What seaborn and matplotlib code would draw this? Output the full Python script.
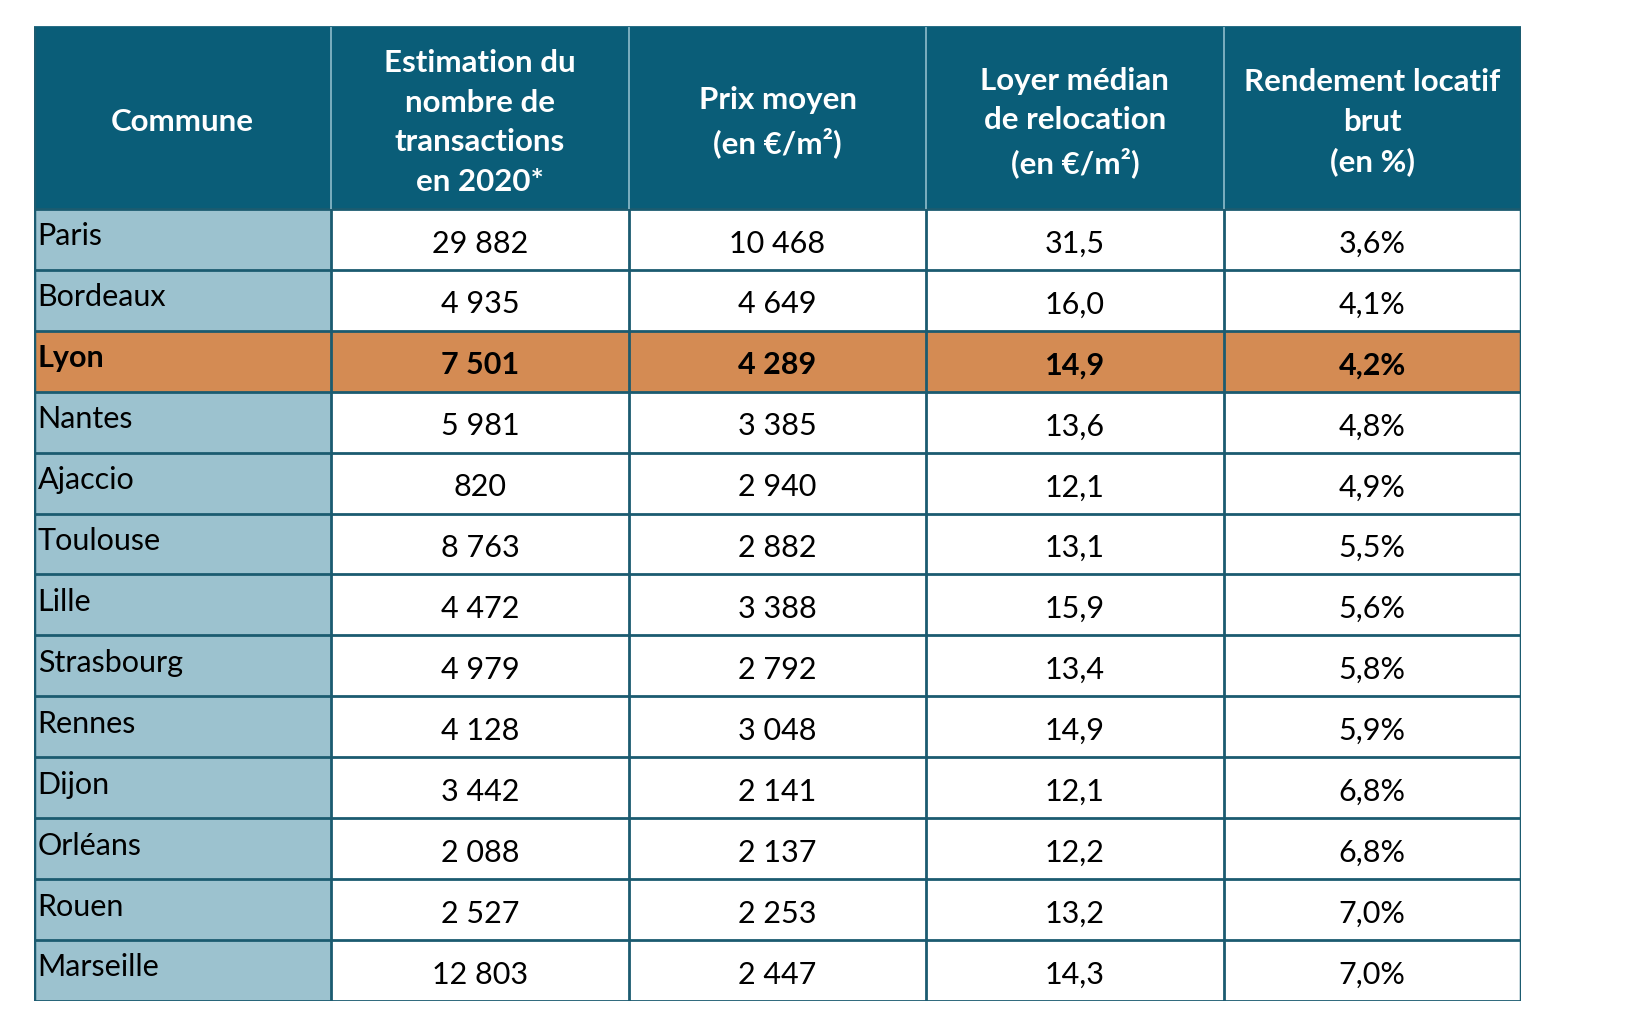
"""
Tableau : rendement locatif brut par commune
"""

import numpy as np
import matplotlib.pyplot as plt
import seaborn as sns
from matplotlib.colors import ListedColormap

# Données du tableau
communes = ["Paris", "Bordeaux", "Lyon", "Nantes", "Ajaccio", "Toulouse", "Lille",
            "Strasbourg", "Rennes", "Dijon", "Orléans", "Rouen", "Marseille"]
transactions = [29882, 4935, 7501, 5981, 820, 8763, 4472, 4979, 4128, 3442, 2088, 2527, 12803]
prix_moyen = [10468, 4649, 4289, 3385, 2940, 2882, 3388, 2792, 3048, 2141, 2137, 2253, 2447]
loyer_median = [31.5, 16.0, 14.9, 13.6, 12.1, 13.1, 15.9, 13.4, 14.9, 12.1, 12.2, 13.2, 14.3]
rendement = [3.6, 4.1, 4.2, 4.8, 4.9, 5.5, 5.6, 5.8, 5.9, 6.8, 6.8, 7.0, 7.0]
headers = ["Commune",
           "Estimation du\nnombre de\ntransactions\nen 2020*",
           "Prix moyen\n(en €/m²)",
           "Loyer médian\nde relocation\n(en €/m²)",
           "Rendement locatif\nbrut\n(en %)"]
highlight = "Lyon"

HEADER_ROWS = 3  # l'en-tête occupe la hauteur de 3 lignes


def fmt_int(v):
    return f"{v:,}".replace(",", " ")


def fmt_dec(v):
    return f"{v:.1f}".replace(".", ",")


def fmt_pct(v):
    return f"{v:.1f}".replace(".", ",") + "%"


n_rows = len(communes)
n_cols = len(headers)

# codes couleur : 0 blanc, 1 bleu clair, 2 orange, 3 en-tête
codes = np.zeros((HEADER_ROWS + n_rows, n_cols))
codes[:HEADER_ROWS, :] = 3
codes[HEADER_ROWS:, 0] = 1
hl = communes.index(highlight)
codes[HEADER_ROWS + hl, :] = 2

cmap = ListedColormap(["#ffffff", "#9cc2cf", "#d48b53", "#0a5d78"])

sns.set_style("white")
plt.rcParams['font.family'] = ['Lato', 'DejaVu Sans']

fig = plt.figure(figsize=(16.35, 10.13), dpi=100)
ax = fig.add_axes([34 / 1635, 12 / 1013, (1521 - 34) / 1635, (1001 - 26) / 1013])
sns.heatmap(codes, cmap=cmap, vmin=-0.5, vmax=3.5, cbar=False, linewidths=0,
            xticklabels=False, yticklabels=False, ax=ax)

dark = "#1b5b70"
# lignes horizontales des données
for i in range(HEADER_ROWS, HEADER_ROWS + n_rows + 1):
    ax.hlines(i, 0, n_cols, color=dark, linewidth=2)
# lignes verticales
for j in range(1, n_cols):
    ax.vlines(j, HEADER_ROWS, HEADER_ROWS + n_rows, color=dark, linewidth=2)
    ax.vlines(j, 0, HEADER_ROWS, color="#8fbccb", linewidth=1.2)
ax.vlines([0, n_cols], 0, HEADER_ROWS + n_rows, color=dark, linewidth=2.5)
ax.hlines(0, 0, n_cols, color="#2a6f86", linewidth=1.5)

# en-tête
for j, h in enumerate(headers):
    ax.text(j + 0.5, HEADER_ROWS / 2 + 0.08, h, ha="center", va="center", color="white",
            fontsize=22.5, fontweight="bold", linespacing=1.5)

# contenu
for i, name in enumerate(communes):
    y = HEADER_ROWS + i + 0.5
    weight = "bold" if name == highlight else "normal"
    ax.text(0.012, y - 0.05, name, ha="left", va="center", fontsize=22,
            fontweight=weight, color="black")
    vals = [fmt_int(transactions[i]), fmt_int(prix_moyen[i]),
            fmt_dec(loyer_median[i]), fmt_pct(rendement[i])]
    for j, v in enumerate(vals):
        ax.text(j + 1.5, y + 0.07, v, ha="center", va="center", fontsize=22,
                fontweight=weight, color="black")

fig.savefig("out.png", dpi=100)
